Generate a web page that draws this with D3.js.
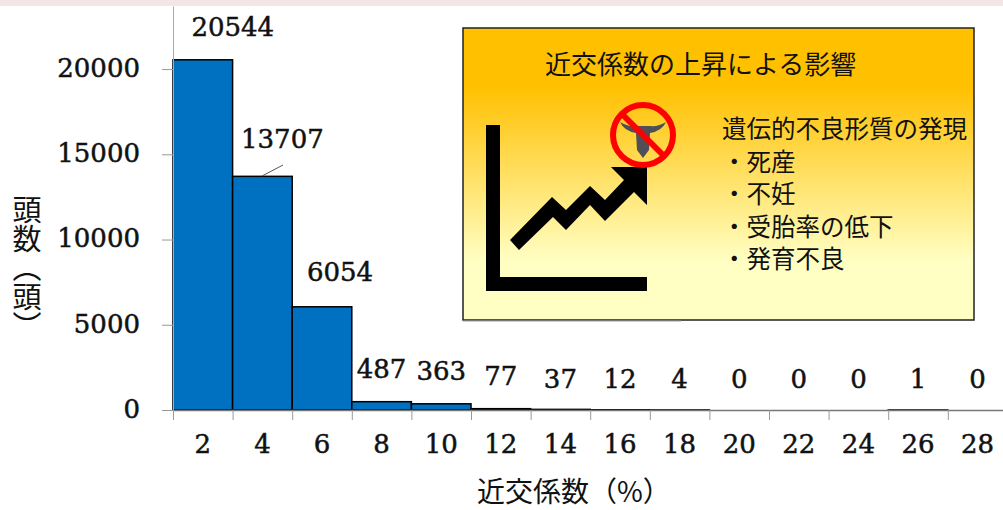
<!DOCTYPE html>
<html lang="ja">
<head>
<meta charset="utf-8">
<script src="https://cdn.jsdelivr.net/npm/d3@7"></script>
<style>
  html, body { margin: 0; padding: 0; background: #fff; overflow: hidden; }
  svg { display: block; }
  .num { font-family: "DejaVu Serif", serif; font-size: 26px; fill: #111; stroke: #111; stroke-width: 0.5px; }
  .jp { font-family: "Noto Sans CJK JP", sans-serif; fill: #111; }
</style>
</head>
<body>
<div id="chart"></div>
<script>
const categories = ['2', '4', '6', '8', '10', '12', '14', '16', '18', '20', '22', '24', '26', '28']
const counts = [20544, 13707, 6054, 487, 363, 77, 37, 12, 4, 0, 0, 0, 1, 0]
const yTicks = [0, 5000, 10000, 15000, 20000]
const panelLines = ['遺伝的不良形質の発現', '・死産', '・不妊', '・受胎率の低下', '・発育不良']

// labels were hand placed in the original, so they don't follow the bar tops
const labelDx = [30, 20, 18, 0, 0, 0, 0, 0, 0, 0, 0, 0, 0, 0]
const labelBase = [36, 148, 281, 378, 380, 385, 388, 388, 388, 388, 388, 388, 388, 388]

const w = 1003
const h = 510
const left = 173
const step = 59.6
const bottom = 410

const svg = d3.select('#chart').append('svg')
  .attr('width', w)
  .attr('height', h)

const defs = svg.append('defs')
const grad = defs.append('linearGradient')
  .attr('id', 'panelFill')
  .attr('x1', 0).attr('y1', 0).attr('x2', 0).attr('y2', 1)
grad.append('stop').attr('offset', '20%').attr('stop-color', '#ffc000')
grad.append('stop').attr('offset', '80%').attr('stop-color', '#ffffc4')

svg.append('rect')
  .attr('width', w)
  .attr('height', 6)
  .attr('fill', '#f5e6e6')

const x = d3.scaleBand()
  .domain(categories)
  .range([left, left + step * categories.length])
  .padding(0)

const xEdge = d3.scaleLinear()
  .domain([0, categories.length])
  .range([left, left + step * categories.length])

const y = d3.scaleLinear()
  .domain([0, 23700])
  .range([bottom, 6])

svg.selectAll('.bar')
  .data(counts)
  .enter().append('rect')
    .attr('class', 'bar')
    .attr('x', (d, i) => x(categories[i]))
    .attr('y', d => y(d))
    .attr('width', x.bandwidth())
    .attr('height', d => bottom - y(d))
    .attr('fill', '#0070c0')
    .attr('stroke', d => d > 0 ? '#000' : 'none')
    .attr('stroke-width', 1.5)

const yAxis = svg.append('g')
  .attr('transform', 'translate(' + left + ',0)')
  .call(d3.axisLeft(y).tickValues(yTicks).tickFormat(d3.format('d')).tickSize(11).tickPadding(22).tickSizeOuter(0))
yAxis.selectAll('line').attr('stroke', '#999')
yAxis.select('.domain').attr('stroke', '#aaa')
yAxis.selectAll('text').attr('class', 'num').attr('fill', null).attr('dy', '0.28em')

const xTicks = svg.append('g')
  .attr('transform', 'translate(0,' + bottom + ')')
  .call(d3.axisBottom(xEdge).tickValues(d3.range(categories.length + 1)).tickSize(10).tickFormat('').tickSizeOuter(0))
xTicks.selectAll('line').attr('stroke', '#999')
xTicks.select('.domain').attr('stroke', '#777').attr('stroke-width', 1.5)

const xLabels = svg.append('g')
  .attr('transform', 'translate(0,' + bottom + ')')
  .call(d3.axisBottom(x).tickSize(0).tickPadding(25))
xLabels.select('.domain').remove()
xLabels.selectAll('text').attr('class', 'num').attr('fill', null)

svg.selectAll('.value')
  .data(counts)
  .enter().append('text')
    .attr('class', 'value num')
    .attr('x', (d, i) => x(categories[i]) + x.bandwidth() / 2 + labelDx[i])
    .attr('y', (d, i) => labelBase[i])
    .attr('text-anchor', 'middle')
    .text(d => d)

// leader line under 13707
svg.append('line')
  .attr('x1', 262).attr('y1', 176)
  .attr('x2', 283).attr('y2', 165)
  .attr('stroke', '#555')

svg.append('text')
  .attr('class', 'jp')
  .attr('x', 477)
  .attr('y', 502)
  .attr('font-size', 28)
  .text('近交係数（%）')

svg.append('text')
  .attr('class', 'jp')
  .attr('transform', 'translate(27,195)')
  .attr('font-size', 29)
  .style('writing-mode', 'vertical-rl')
  .style('text-orientation', 'upright')
  .text('頭数（頭）')

// inset panel
const panel = svg.append('g')
panel.append('rect')
  .attr('x', 463).attr('y', 28)
  .attr('width', 511).attr('height', 292)
  .attr('fill', 'url(#panelFill)')
  .attr('stroke', '#222')
  .attr('stroke-width', 1.5)
panel.append('line')
  .attr('x1', 463).attr('y1', 321)
  .attr('x2', 681).attr('y2', 321)
  .attr('stroke', '#999')

panel.append('text')
  .attr('class', 'jp')
  .attr('x', 545).attr('y', 74)
  .attr('font-size', 26)
  .text('近交係数の上昇による影響')

panel.selectAll('.line')
  .data(panelLines)
  .enter().append('text')
    .attr('class', 'line jp')
    .attr('x', 722)
    .attr('y', (d, i) => 138 + i * 32.6)
    .attr('font-size', 24.5)
    .text(d => d)

// rising arrow icon
panel.append('path')
  .attr('d', 'M486,125H500V277H647V291H486Z')
  .attr('fill', '#000')
panel.append('path')
  .attr('d', 'M510,240L519,250L553,217L566,230L590,205L605,221L634,192L647,205V167H611L624,180L605,200L590,186L566,210L552,197Z')
  .attr('fill', '#000')

// skull, then the no-entry sign over it
panel.append('path')
  .attr('d', 'M620,122Q628,127 636,126L650,126Q658,127 666,122Q662,131 650,133L649,150L643,158L637,150L636,133Q624,131 620,122Z')
  .attr('fill', '#4f4f58')
panel.append('circle')
  .attr('cx', 643).attr('cy', 135)
  .attr('r', 30)
  .attr('fill', 'none')
  .attr('stroke', '#f00')
  .attr('stroke-width', 6)
panel.append('line')
  .attr('x1', 622).attr('y1', 114)
  .attr('x2', 664).attr('y2', 156)
  .attr('stroke', '#f00')
  .attr('stroke-width', 6)
</script>
</body>
</html>
